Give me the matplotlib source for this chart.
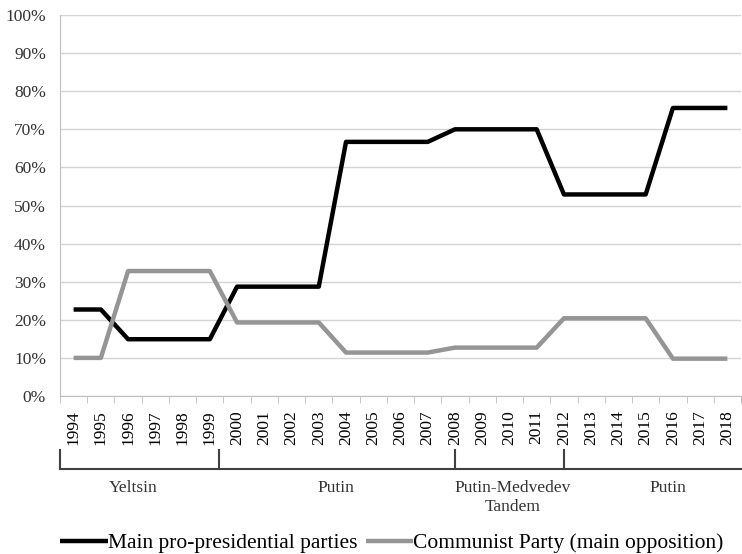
import matplotlib
matplotlib.use('Agg')
import matplotlib.pyplot as plt
import matplotlib.transforms as mtransforms
from matplotlib.ticker import FixedLocator, FuncFormatter

plt.rcParams['font.family'] = ['Liberation Serif', 'DejaVu Serif']

years = list(range(1994, 2019))
pro_presidential = [22.7, 22.7, 14.9, 14.9, 14.9, 14.9, 28.7, 28.7, 28.7, 28.7,
                    66.7, 66.7, 66.7, 66.7, 70.0, 70.0, 70.0, 70.0,
                    52.9, 52.9, 52.9, 52.9, 75.6, 75.6, 75.6]
communist = [10.0, 10.0, 32.8, 32.8, 32.8, 32.8, 19.3, 19.3, 19.3, 19.3,
             11.4, 11.4, 11.4, 11.4, 12.7, 12.7, 12.7, 12.7,
             20.4, 20.4, 20.4, 20.4, 9.8, 9.8, 9.8]

# presidential periods: label, centre (category units)
period_names = ['Yeltsin', 'Putin', 'Putin-Medvedev\nTandem', 'Putin']
period_centres = [2.2, 9.63, 16.1, 21.8]
period_breaks = [-0.5, 5.35, 14.0, 18.0]

fig = plt.figure(figsize=(7.42, 5.54), dpi=100)
ax = fig.add_axes([60 / 742, 1 - 396 / 554, 681 / 742, 381 / 554])

x = list(range(len(years)))
l1, = ax.plot(x, pro_presidential, color='black', lw=3.2, solid_capstyle='butt',
              label='Main pro-presidential parties')
l2, = ax.plot(x, communist, color='#959595', lw=3.2, solid_capstyle='butt',
              label='Communist Party (main opposition)')

ax.set_xlim(-0.5, len(years) - 0.5)
ax.set_ylim(0, 100)
ax.set_yticks(range(0, 101, 10))
ax.yaxis.set_major_formatter(FuncFormatter(lambda v, p: '%d%%' % v))
ax.yaxis.grid(True, color='#d4d4d4', lw=1)
ax.set_axisbelow(True)
ax.tick_params(axis='y', length=0, pad=10, labelsize=12.5, labelcolor='#333333')

ax.set_xticks(x)
ax.set_xticklabels([str(y) for y in years], rotation=90, fontsize=12.5)
ax.tick_params(axis='x', which='major', length=0, pad=10)
ax.xaxis.set_minor_locator(FixedLocator([i - 0.5 for i in range(len(years) + 1)]))
ax.tick_params(axis='x', which='minor', length=5, color='#bfbfbf', direction='out')

for s in ['top', 'right']:
    ax.spines[s].set_visible(False)
ax.spines['left'].set_color('#bfbfbf')
ax.spines['bottom'].set_color('#bfbfbf')

# period bracket under the axis
trans = mtransforms.blended_transform_factory(ax.transData, fig.transFigure)
y_top = 1 - 450 / 554
y_base = 1 - 469 / 554
ax.plot([-0.5, 24.6], [y_base, y_base], transform=trans, color='#404040',
        lw=1.5, clip_on=False)
for b in period_breaks:
    ax.plot([b, b], [y_top, y_base], transform=trans, color='#404040',
            lw=1.5, clip_on=False)
for name, c in zip(period_names, period_centres):
    ax.text(c, 1 - 480 / 554, name, transform=trans, ha='center', va='top',
            fontsize=12.5, color='#333333', linespacing=1.25)

fig.legend(handles=[l1, l2], loc='center', bbox_to_anchor=(392 / 742, 1 - 543 / 554),
           ncol=2, frameon=False, fontsize=15.5, handlelength=2.2,
           handletextpad=0.0, columnspacing=0.4, borderaxespad=0)

fig.savefig('out.png', dpi=100)
